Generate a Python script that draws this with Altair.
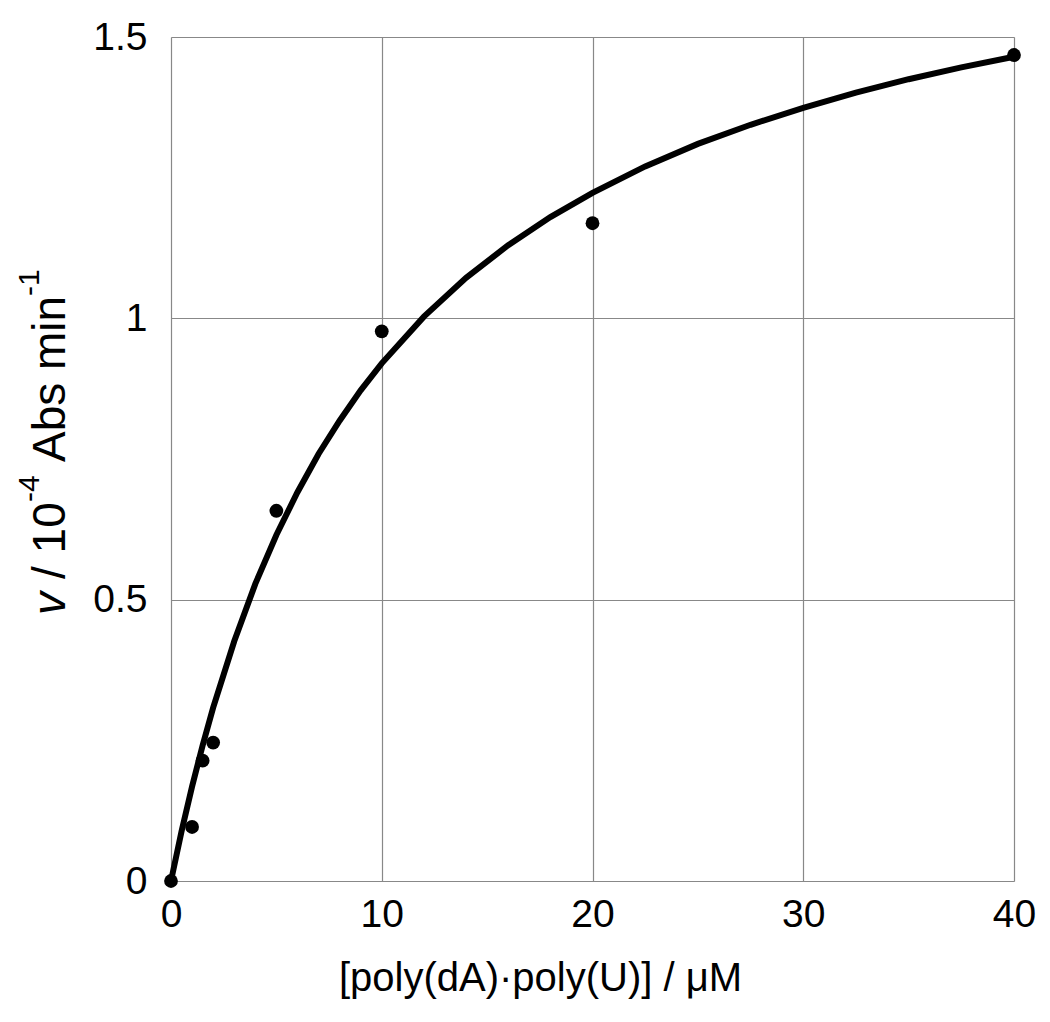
import altair as alt
import pandas as pd

# measured data points
conc = [0, 1, 1.5, 2, 5, 10, 20, 40]
rate = [0.0, 0.096, 0.214, 0.246, 0.658, 0.977, 1.169, 1.468]

# fitted curve
curve_x = [0, 0.5, 1, 1.5, 2, 3, 4, 5, 6, 7, 8, 9, 10, 12, 14, 16, 18, 20,
           22.5, 25, 27.5, 30, 32.5, 35, 37.5, 40]
curve_y = [0.0, 0.088, 0.168, 0.241, 0.308, 0.426, 0.528, 0.615, 0.691, 0.759,
           0.818, 0.872, 0.920, 1.003, 1.072, 1.130, 1.180, 1.223, 1.270, 1.310,
           1.344, 1.374, 1.401, 1.425, 1.446, 1.465]

x_ticks = [0, 10, 20, 30, 40]
y_ticks = [0, 0.5, 1, 1.5]

x_title = "[poly(dA)·poly(U)] / μM"
# y title pieces: (text, italic, superscript, start position along the axis)
y_pieces = ["v", "/ 10", "-4", "Abs min", "-1"]
y_italic = [True, False, False, False, False]
y_super = [False, False, True, False, True]
y_start = [578, 542, 465, 425, 259]

FONT = "Liberation Sans"
FS = 39
TFS = 46
SFS = 30

pts = pd.DataFrame({"x": conc, "y": rate})
crv = pd.DataFrame({"x": curve_x, "y": curve_y})

xscale = alt.Scale(domain=[0, 40], nice=False, zero=False)
yscale = alt.Scale(domain=[0, 1.5], nice=False, zero=False)

xaxis = alt.Axis(values=x_ticks, title=x_title, ticks=False, domain=False,
                 grid=True, gridColor="#888888", gridWidth=1.2,
                 labelFont=FONT, labelFontSize=FS, labelColor="black",
                 labelPadding=14, labelFlush=False, labelExpr="datum.value",
                 titleFont=FONT, titleFontSize=40, titleFontWeight="normal",
                 titleColor="black", titleX=369, titleY=109,
                 titleBaseline="alphabetic", titleAnchor="start", titleAlign="center")
yaxis = alt.Axis(values=y_ticks, title=None, ticks=False, domain=False,
                 grid=True, gridColor="#888888", gridWidth=1.2,
                 labelFont=FONT, labelFontSize=FS, labelColor="black",
                 labelPadding=24, labelFlush=False, labelExpr="datum.value",
                 labelBaseline="middle")

line = alt.Chart(crv).mark_line(color="black", strokeWidth=6, clip=False).encode(
    x=alt.X("x:Q", scale=xscale, axis=xaxis),
    y=alt.Y("y:Q", scale=yscale, axis=yaxis),
    order="x:Q",
)
dots = alt.Chart(pts).mark_circle(color="black", opacity=1, size=190, clip=False).encode(
    x=alt.X("x:Q", scale=xscale),
    y=alt.Y("y:Q", scale=yscale),
)

layers = [line, dots]
for txt, ital, sup, start in zip(y_pieces, y_italic, y_super, y_start):
    kw = dict(font=FONT, fontSize=SFS if sup else TFS, angle=270, align="left",
              baseline="alphabetic", color="black")
    if ital:
        kw["fontStyle"] = "italic"
    layers.append(
        alt.Chart(pd.DataFrame({"t": [txt]})).mark_text(**kw).encode(
            text="t:N",
            x=alt.value(-132 if sup else -106),
            y=alt.value(start),
        )
    )

chart = alt.layer(*layers).properties(
    width=843, height=844,
    autosize=alt.AutoSizeParams(type="none"),
    padding={"left": 163, "top": 29, "right": 28, "bottom": 133},
).configure_view(stroke="black", strokeWidth=2).configure(background="white")

chart.save("out.html", embed_options={"renderer": "svg", "actions": False})
